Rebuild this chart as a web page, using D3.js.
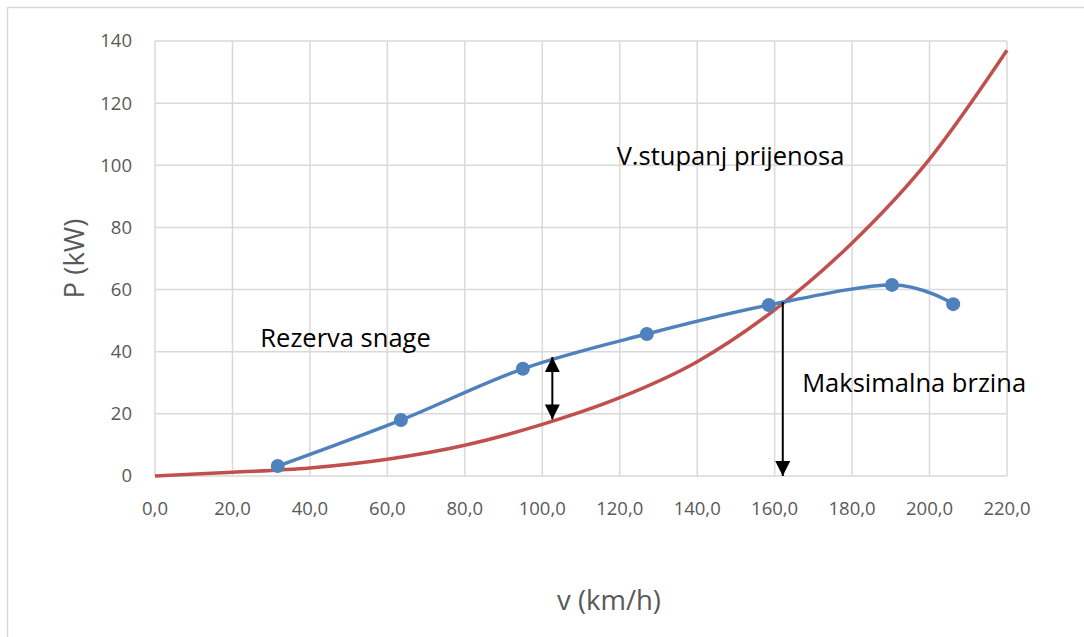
<!DOCTYPE html>
<html>
<head>
<meta charset="utf-8">
<style>
body { margin: 0; background: #fff; }
svg { display: block; }
.grid line { stroke: #d9d9d9; stroke-width: 1.5px; }
.tick-label { font-family: "Open Sans", sans-serif; font-size: 18.5px; fill: #595959; }
.axis-title { font-family: "Open Sans", sans-serif; font-size: 27.5px; fill: #595959; }
.note { font-family: "Open Sans", sans-serif; font-size: 25.5px; fill: #000; }
</style>
</head>
<body>
<svg width="1084" height="637"></svg>
<script src="https://cdn.jsdelivr.net/npm/d3@7"></script>
<script>

// vucna snaga u V. stupnju prijenosa (plava krivulja)
var speedDrive = [31.7, 63.5, 95.0, 127.0, 158.5, 190.3, 206.1];
var powerDrive = [3.2, 18.0, 34.5, 45.7, 55.0, 61.5, 55.3];

// snaga otpora (crvena krivulja)
var speedResist = [0, 20, 40, 60, 80, 100, 120, 140, 160, 180, 200, 220];
var powerResist = [0, 1.2, 2.6, 5.4, 9.9, 16.6, 25.2, 36.8, 53.5, 75.0, 102.0, 137.0];

var xTicks = [0, 20, 40, 60, 80, 100, 120, 140, 160, 180, 200, 220];
var yTicks = [0, 20, 40, 60, 80, 100, 120, 140];

// oznake na grafu
var notes = [
  { text: "V.stupanj prijenosa", v: 119.2, p: 100.1 },
  { text: "Rezerva snage", v: 27.2, p: 41.5 },
  { text: "Maksimalna brzina", v: 167.1, p: 27.0 }
];
var arrowReserve = { v: 102.6, p1: 38.3, p2: 18.2 };
var arrowMax = { v: 162.1, p1: 56.0, p2: 0 };

var svg = d3.select("svg");
var margin = { left: 155, top: 41, right: 77, bottom: 161 };
var width = 1084 - margin.left - margin.right,
    height = 637 - margin.top - margin.bottom;

// okvir grafa
svg.append("rect")
    .attr("x", 7.5).attr("y", 7.5)
    .attr("width", 1100).attr("height", 700)
    .attr("fill", "none")
    .attr("stroke", "#d9d9d9")
    .attr("stroke-width", 1.5);

var g = svg.append("g").attr("transform", "translate(" + margin.left + "," + margin.top + ")");

var x = d3.scaleLinear().domain([0, 220]).range([0, width]);
var y = d3.scaleLinear().domain([0, 140]).range([height, 0]);

var grid = g.append("g").attr("class", "grid");
grid.selectAll(".gx").data(xTicks).enter().append("line")
    .attr("x1", function(d) { return x(d); }).attr("x2", function(d) { return x(d); })
    .attr("y1", 0).attr("y2", height);
grid.selectAll(".gy").data(yTicks).enter().append("line")
    .attr("x1", 0).attr("x2", width)
    .attr("y1", function(d) { return y(d); }).attr("y2", function(d) { return y(d); });

g.selectAll(".xl").data(xTicks).enter().append("text")
    .attr("class", "tick-label")
    .attr("x", function(d) { return x(d); })
    .attr("y", height + 39)
    .attr("text-anchor", "middle")
    .text(function(d) { return d3.format(".1f")(d).replace(".", ","); });

g.selectAll(".yl").data(yTicks).enter().append("text")
    .attr("class", "tick-label")
    .attr("x", -23)
    .attr("y", function(d) { return y(d); })
    .attr("dy", "0.35em")
    .attr("text-anchor", "end")
    .text(function(d) { return d; });

svg.append("text")
    .attr("class", "axis-title")
    .attr("transform", "translate(84," + (margin.top + height / 2) + ") rotate(-90)")
    .attr("text-anchor", "middle")
    .text("P (kW)");

svg.append("text")
    .attr("class", "axis-title")
    .attr("x", 609).attr("y", 610)
    .attr("text-anchor", "middle")
    .text("v (km/h)");

var line = d3.line()
    .x(function(d) { return x(d[0]); })
    .y(function(d) { return y(d[1]); })
    .curve(d3.curveCardinal.tension(0));

var resist = d3.zip(speedResist, powerResist);
var drive = d3.zip(speedDrive, powerDrive);

g.append("path")
    .datum(resist)
    .attr("d", line)
    .attr("fill", "none")
    .attr("stroke", "#c0504d")
    .attr("stroke-width", 3.5);

g.append("path")
    .datum(drive)
    .attr("d", line)
    .attr("fill", "none")
    .attr("stroke", "#4f81bd")
    .attr("stroke-width", 3.5);

g.selectAll(".dot").data(drive).enter().append("circle")
    .attr("cx", function(d) { return x(d[0]); })
    .attr("cy", function(d) { return y(d[1]); })
    .attr("r", 7)
    .attr("fill", "#4f81bd");

// strelice
svg.append("defs").append("marker")
    .attr("id", "head")
    .attr("viewBox", "0 0 10 10")
    .attr("refX", 10).attr("refY", 5)
    .attr("markerWidth", 7.5).attr("markerHeight", 7.5)
    .attr("markerUnits", "strokeWidth")
    .attr("orient", "auto-start-reverse")
    .append("path")
    .attr("d", "M0,0 L10,5 L0,10 Z")
    .attr("fill", "#000");

g.append("line")
    .attr("x1", x(arrowReserve.v)).attr("x2", x(arrowReserve.v))
    .attr("y1", y(arrowReserve.p1)).attr("y2", y(arrowReserve.p2))
    .attr("stroke", "#000").attr("stroke-width", 2)
    .attr("marker-start", "url(#head)")
    .attr("marker-end", "url(#head)");

g.append("line")
    .attr("x1", x(arrowMax.v)).attr("x2", x(arrowMax.v))
    .attr("y1", y(arrowMax.p1)).attr("y2", y(arrowMax.p2))
    .attr("stroke", "#000").attr("stroke-width", 2)
    .attr("marker-end", "url(#head)");

g.selectAll(".note").data(notes).enter().append("text")
    .attr("class", "note")
    .attr("x", function(d) { return x(d.v); })
    .attr("y", function(d) { return y(d.p); })
    .text(function(d) { return d.text; });

</script>
</body>
</html>
